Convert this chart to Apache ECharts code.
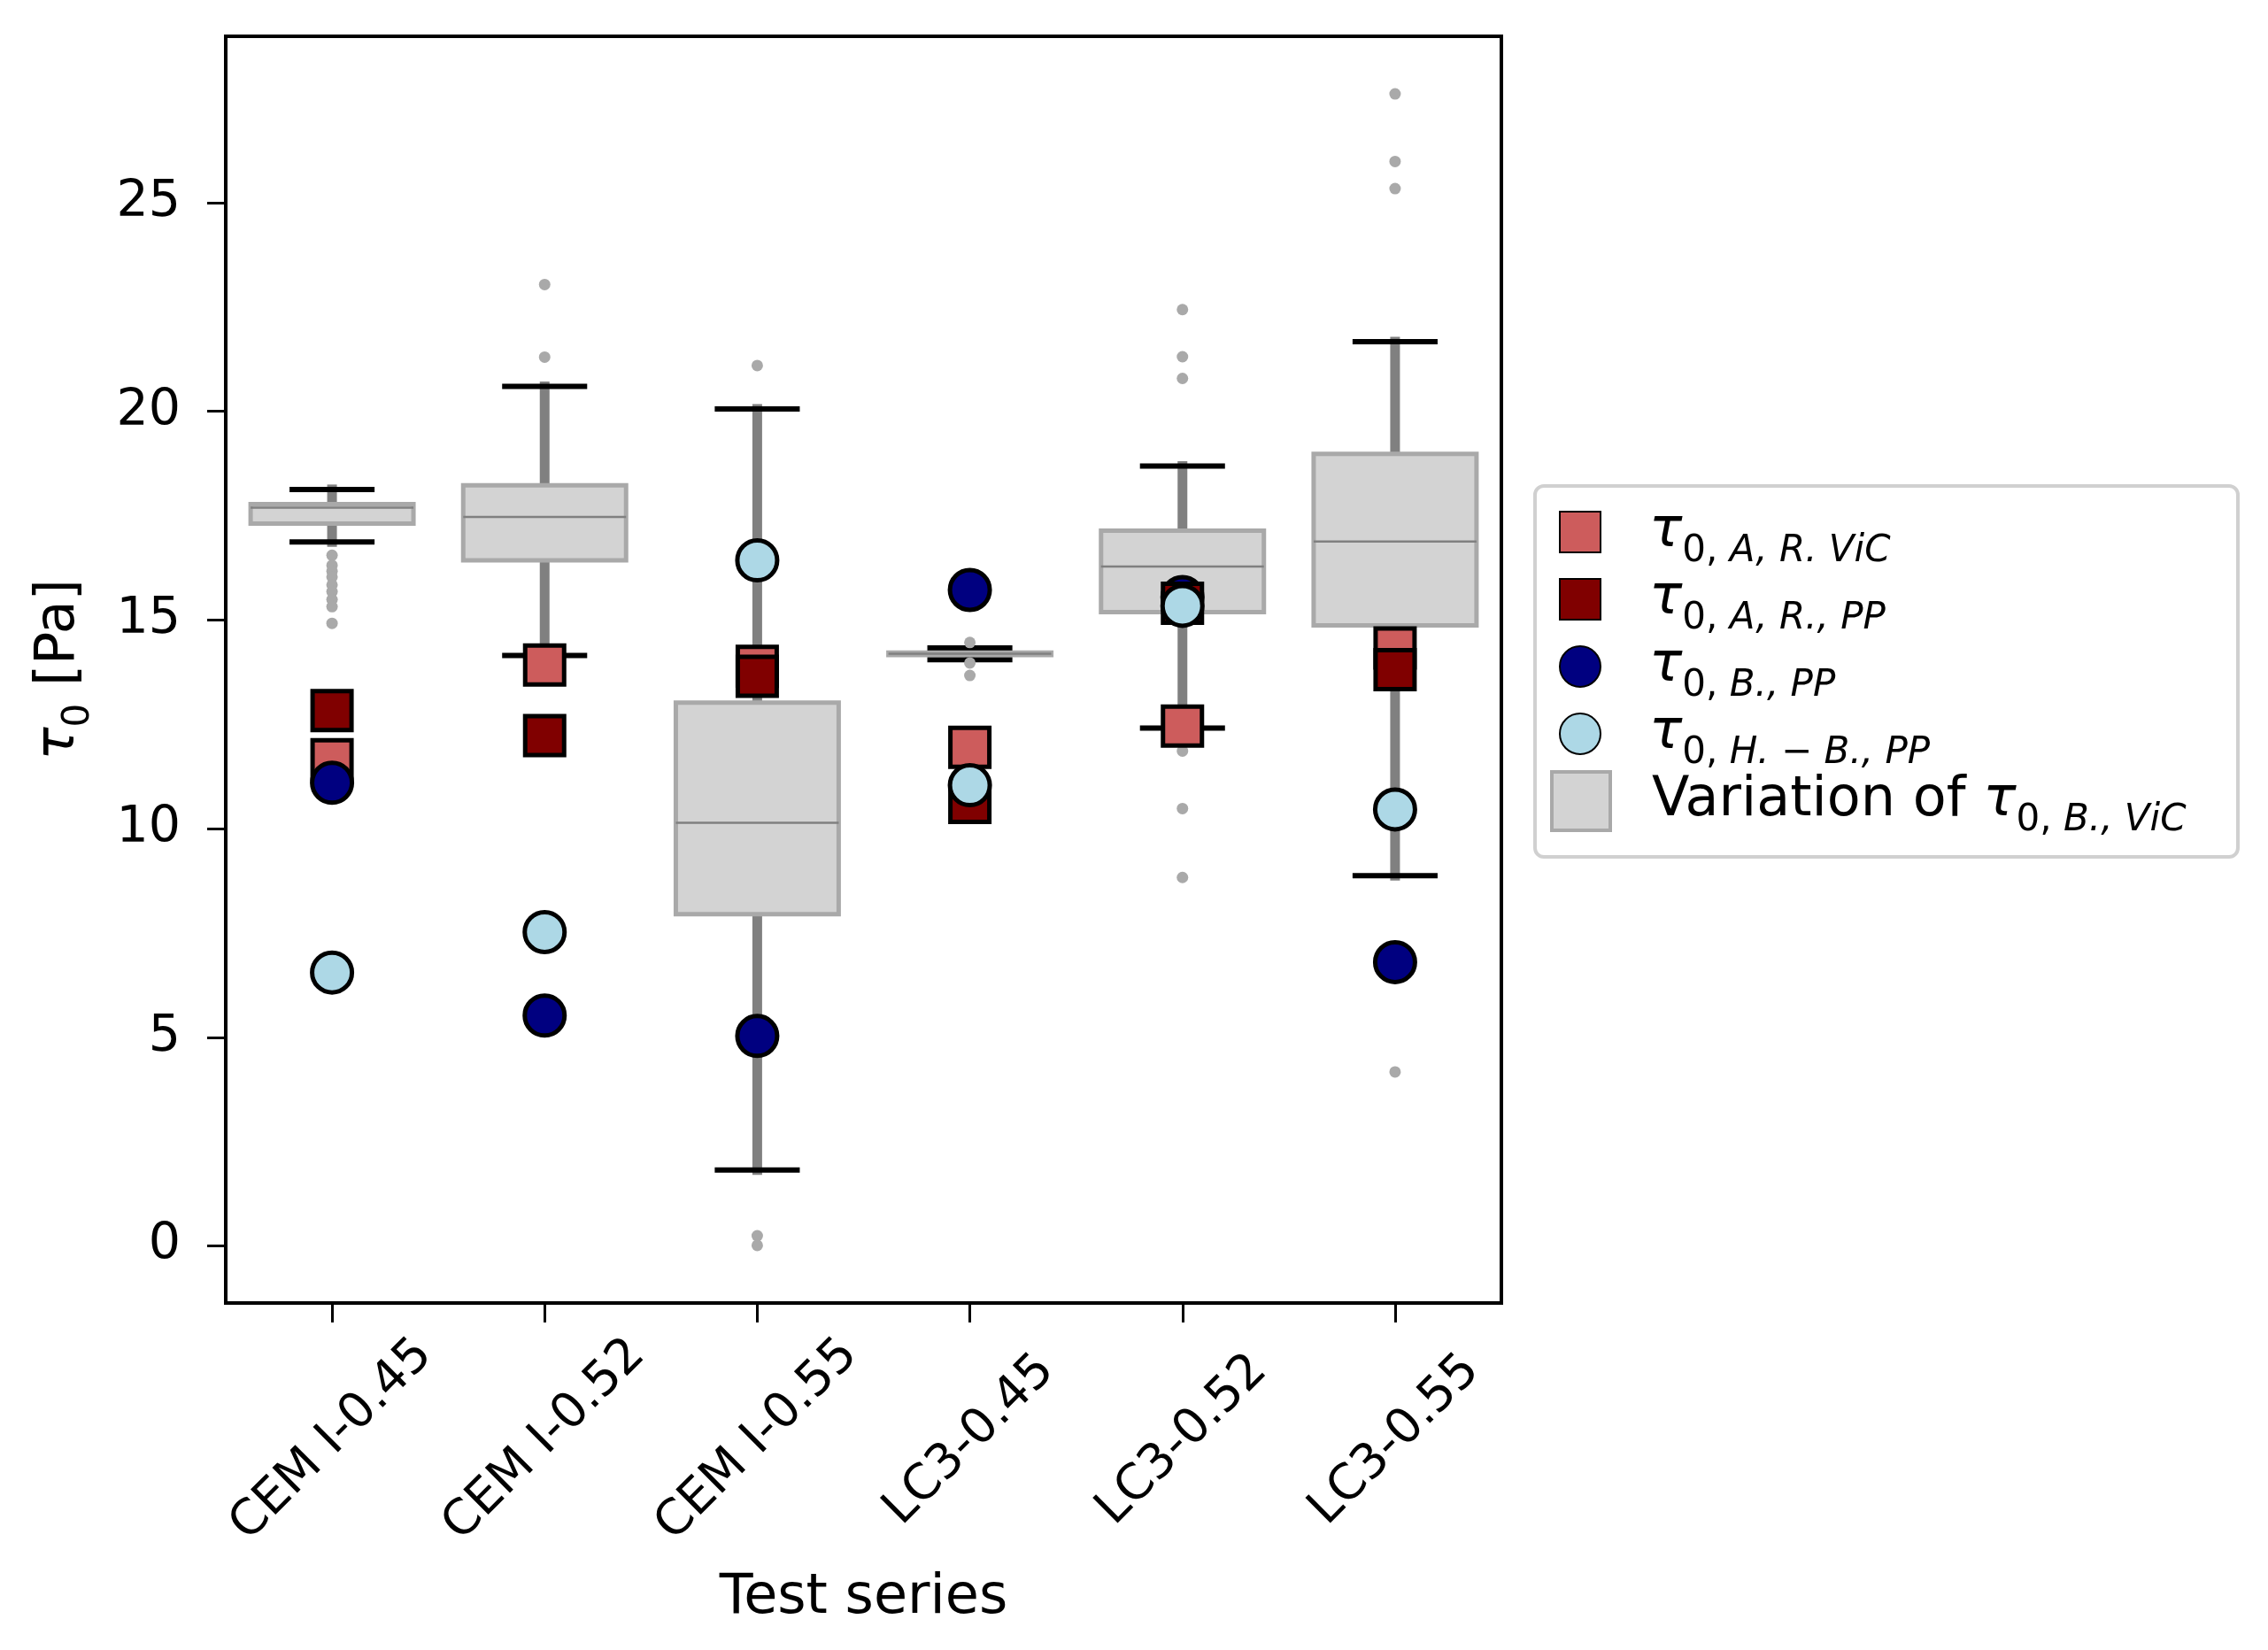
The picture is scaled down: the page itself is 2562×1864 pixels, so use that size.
<!DOCTYPE html>
<html><head><meta charset="utf-8">
<script src="https://cdn.jsdelivr.net/npm/echarts@6/dist/echarts.min.js"></script>
<style>html,body{margin:0;padding:0;background:#fff}#c{width:2562px;height:1864px}</style>
</head><body><div id="c"></div>
<script>
const categories = ['CEM I-0.45','CEM I-0.52','CEM I-0.55','LC3-0.45','LC3-0.52','LC3-0.55'];
const yTicks = [0, 5, 10, 15, 20, 25];

// Variation of tau_0,B.,ViC (box plot statistics)
const whiskerLow  = [16.87, 14.15,  1.82, 14.05, 12.41,  8.87];
const q1          = [17.31, 16.43,  7.95, 14.16, 15.19, 14.87];
const median      = [17.69, 17.47, 10.14, 14.19, 16.28, 16.88];
const q3          = [17.78, 18.23, 13.02, 14.22, 17.14, 18.98];
const whiskerHigh = [18.13, 20.60, 20.06, 14.33, 18.69, 21.67];
const outliers = [
  [16.55, 16.31, 16.17, 16.03, 15.84, 15.68, 15.49, 15.32, 14.92],
  [23.04, 21.30],
  [21.10, 0.24, 0.01],
  [14.46, 13.97, 13.67],
  [22.44, 21.31, 20.79, 11.86, 10.48, 8.83],
  [27.61, 25.99, 25.34, 4.17]
];

// point estimates
const tauARViC = [11.65, 13.92, 13.89, 11.95, 12.46, 14.33];
const tauARPP  = [12.83, 12.23, 13.65, 10.63, 15.40, 13.81];
const tauBPP   = [11.10,  5.52,  5.03, 15.72, 15.55,  6.80];
const tauHBPP  = [ 6.55,  7.52, 16.43, 11.04, 15.34, 10.46];

const FONT = 'DejaVu Sans';
const boxData = categories.map((c, i) => [i, whiskerLow[i], q1[i], median[i], q3[i], whiskerHigh[i]]);
const outlierData = [];
outliers.forEach((arr, i) => arr.forEach(v => outlierData.push([i, v])));
const pts = arr => arr.map((v, i) => [i, v]);

function renderBox(params, api) {
  const i = api.value(0);
  const band = api.size([1, 0])[0];
  const boxW = band * 0.766;
  const capW = band * 0.40;
  const x = api.coord([i, 0])[0];
  const yWL = api.coord([i, api.value(1)])[1];
  const yQ1 = api.coord([i, api.value(2)])[1];
  const yMed = api.coord([i, api.value(3)])[1];
  const yQ3 = api.coord([i, api.value(4)])[1];
  const yWH = api.coord([i, api.value(5)])[1];
  const wStyle = {stroke: '#808080', lineWidth: 11, lineCap: 'square'};
  const cStyle = {stroke: '#000', lineWidth: 6};
  return {type: 'group', children: [
    {type: 'line', shape: {x1: x, y1: yQ3, x2: x, y2: yWH}, style: wStyle},
    {type: 'line', shape: {x1: x, y1: yQ1, x2: x, y2: yWL}, style: wStyle},
    {type: 'line', shape: {x1: x - capW / 2, y1: yWH, x2: x + capW / 2, y2: yWH}, style: cStyle},
    {type: 'line', shape: {x1: x - capW / 2, y1: yWL, x2: x + capW / 2, y2: yWL}, style: cStyle},
    {type: 'rect', shape: {x: x - boxW / 2, y: yQ3, width: boxW, height: yQ1 - yQ3},
      style: {fill: '#d3d3d3', stroke: '#a9a9a9', lineWidth: 5}},
    {type: 'line', shape: {x1: x - boxW / 2, y1: yMed, x2: x + boxW / 2, y2: yMed},
      style: {stroke: '#808080', lineWidth: 2.5}}
  ]};
}

const richStyles = {
  sp: {width: 50, fontSize: 10},
  sp2: {width: 42, fontSize: 10},
  t: {fontFamily: FONT, fontSize: 62, fontStyle: 'italic', lineHeight: 64, color: '#000'},
  v: {fontFamily: FONT, fontSize: 62, lineHeight: 64, color: '#000'},
  n: {fontFamily: FONT, fontSize: 42, lineHeight: 20, padding: [44, 0, 0, 0], color: '#000'},
  i: {fontFamily: FONT, fontSize: 42, fontStyle: 'italic', lineHeight: 20, padding: [44, 0, 0, 0], color: '#000'}
};
const legendLabels = {
  'aRViC': '{sp| }{t|τ}{n|0,}{i| A, R. ViC}',
  'aRPP': '{sp| }{t|τ}{n|0,}{i| A, R., PP}',
  'bPP': '{sp| }{t|τ}{n|0,}{i| B., PP}',
  'hbPP': '{sp| }{t|τ}{n|0,}{i| H. − B., PP}',
  'var': '{sp2| }{v|Variation of }{t|τ}{n|0,}{i| B., ViC}'
};

function markerSeries(name, data, symbol, color, z) {
  return {
    name: name, type: 'scatter', data: pts(data), symbol: symbol,
    symbolSize: symbol === 'rect' ? 44 : 45, z: z,
    itemStyle: {color: color, borderColor: '#000', borderWidth: 5, opacity: 1},
    emphasis: {disabled: true}
  };
}

const chart = echarts.init(document.getElementById('c'), null, {renderer: 'canvas'});
chart.setOption({
  animation: false,
  backgroundColor: '#fff',
  grid: {left: 255, right: 866, top: 41, bottom: 392, show: true, borderColor: '#000', borderWidth: 4, backgroundColor: 'transparent'},
  xAxis: {
    type: 'category', data: categories, boundaryGap: true,
    axisLine: {show: true, onZero: false, lineStyle: {color: '#000', width: 4}},
    axisTick: {show: true, alignWithLabel: true, length: 22, lineStyle: {color: '#000', width: 3}},
    axisLabel: {interval: 0, rotate: 45, align: 'center', verticalAlign: 'middle', margin: 155,
      fontSize: 55, fontFamily: FONT, color: '#000'},
    splitLine: {show: false},
    name: 'Test series', nameLocation: 'middle', nameGap: 303,
    nameTextStyle: {fontSize: 62, fontFamily: FONT, color: '#000', verticalAlign: 'top'}
  },
  yAxis: {
    type: 'value', min: -1.37, max: 28.99,
    axisLine: {show: true, onZero: false, lineStyle: {color: '#000', width: 4}},
    axisTick: {show: true, length: 21, customValues: yTicks, lineStyle: {color: '#000', width: 3}},
    axisLabel: {customValues: yTicks, fontSize: 57, fontFamily: FONT, color: '#000', margin: 51},
    splitLine: {show: false},
    name: '{t|τ}{n|0}{v| [Pa]}', nameLocation: 'middle', nameGap: 156,
    nameTextStyle: {fontSize: 62, fontFamily: FONT, color: '#000', rich: richStyles}
  },
  legend: [
    {
      orient: 'vertical', left: 1761, top: 558, padding: 0, itemGap: -10,
      itemWidth: 46, itemHeight: 46, selectedMode: false,
      data: ['aRViC', 'aRPP', 'bPP', 'hbPP'],
      formatter: n => legendLabels[n],
      textStyle: {fontSize: 62, fontFamily: FONT, color: '#000', rich: richStyles}
    },
    {
      orient: 'vertical', left: 1751, top: 862, padding: 0,
      itemWidth: 66, itemHeight: 66, selectedMode: false,
      data: [{name: 'var', icon: 'rect', itemStyle: {color: '#d3d3d3', borderColor: '#a9a9a9', borderWidth: 4}}],
      formatter: n => legendLabels[n],
      textStyle: {fontSize: 62, fontFamily: FONT, color: '#000', rich: richStyles}
    }
  ],
  graphic: [{
    type: 'rect', left: 1732, top: 547, z: -1,
    shape: {width: 794, height: 419, r: 10},
    style: {fill: '#fff', stroke: '#d0d0d0', lineWidth: 4}
  }],
  series: [
    {
      name: 'var', type: 'custom', renderItem: renderBox, data: boxData, z: 2,
      encode: {x: 0, y: [1, 2, 3, 4, 5]},
      itemStyle: {color: '#d3d3d3', borderColor: '#a9a9a9'}
    },
    {
      name: 'outliers', type: 'scatter', data: outlierData, symbol: 'circle', symbolSize: 13, z: 3,
      itemStyle: {color: '#a9a9a9', opacity: 1}, emphasis: {disabled: true}
    },
    markerSeries('aRViC', tauARViC, 'rect', '#cd5c5c', 4),
    markerSeries('bPP', tauBPP, 'circle', '#000080', 5),
    markerSeries('aRPP', tauARPP, 'rect', '#800000', 6),
    markerSeries('hbPP', tauHBPP, 'circle', '#add8e6', 7)
  ]
});
</script></body></html>
